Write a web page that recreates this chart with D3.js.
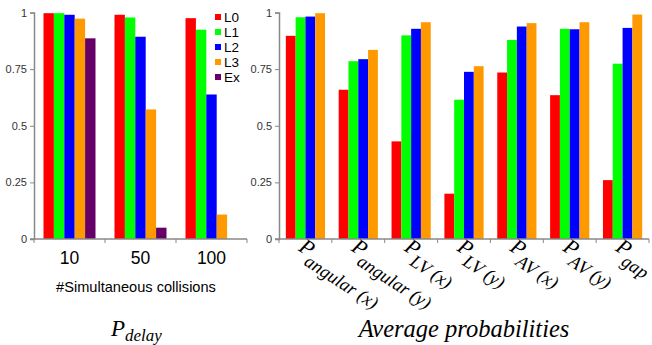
<!DOCTYPE html>
<html>
<head>
<meta charset="utf-8">
<script src="https://cdn.jsdelivr.net/npm/d3@7"></script>
<style>
  body { margin: 0; background: #fff; }
  svg { display: block; }
</style>
</head>
<body>
<div id="chart"></div>
<script>
// data
let series = ["L0", "L1", "L2", "L3", "Ex"];
let colors = ["#ff0000", "#00ff00", "#0000ff", "#ff9900", "#660066"];

let collisions = ["10", "50", "100"];
let delayL0 = [0.997, 0.99, 0.975];
let delayL1 = [0.997, 0.978, 0.924];
let delayL2 = [0.99, 0.893, 0.638];
let delayL3 = [0.973, 0.572, 0.108];
let delayEx = [0.886, 0.05, 0];

let probNames = [
  ["P", "angular (x)"], ["P", "angular (y)"], ["P", "LV (x)"], ["P", "LV (y)"],
  ["P", "AV (x)"], ["P", "AV (y)"], ["P", "gap"]
];
let probL0 = [0.897, 0.659, 0.431, 0.2, 0.735, 0.635, 0.26];
let probL1 = [0.979, 0.785, 0.899, 0.615, 0.879, 0.928, 0.774];
let probL2 = [0.982, 0.794, 0.928, 0.738, 0.938, 0.926, 0.932];
let probL3 = [0.997, 0.835, 0.957, 0.763, 0.953, 0.957, 0.991];

let yTicks = [0, 0.25, 0.5, 0.75, 1];

let svgWidth = 652;
let svgHeight = 345;

var svg = d3.select("#chart")
    .append("svg")
    .attr("width", svgWidth)
    .attr("height", svgHeight);

svg.append("rect").attr("width", svgWidth).attr("height", svgHeight).attr("fill", "#fff");

var yScale = d3.scaleLinear().domain([0, 1]).range([239, 12.5]);

// draws one grouped bar panel
function drawPanel(cats, rows, x0, x1) {
    var g = svg.append("g");
    var x = d3.scaleBand().domain(d3.range(cats.length)).range([x0, x1]);
    var barW = rows.length === 5 ? 10.4 : 9.8;
    var off = (x.bandwidth() - barW * rows.length) / 2;

    rows.forEach(function(vals, si) {
        g.selectAll(null)
            .data(vals)
            .enter()
            .append("rect")
            .attr("x", (d, i) => x(i) + off + si * barW)
            .attr("y", d => yScale(d))
            .attr("width", barW)
            .attr("height", d => yScale(0) - yScale(d))
            .attr("fill", colors[si]);
    });

    // y axis
    var leftAxis = d3.axisLeft(yScale).tickValues(yTicks).tickSize(4)
        .tickFormat(d => String(d));
    var ay = g.append("g").attr("transform", `translate(${x0}, 0)`).call(leftAxis);
    ay.select(".domain").attr("stroke", "#888").attr("stroke-width", 1.5);
    ay.selectAll(".tick line").attr("stroke", "#888");
    ay.selectAll(".tick text")
        .attr("font-family", "Liberation Sans, Arial, sans-serif")
        .attr("font-size", "11px")
        .attr("fill", "#333")
        .attr("x", -7);

    // x axis line with ticks between groups
    g.append("line")
        .attr("x1", x0 - 4).attr("x2", x1)
        .attr("y1", yScale(0)).attr("y2", yScale(0))
        .attr("stroke", "#888").attr("stroke-width", 1.5);
    g.selectAll(null)
        .data(d3.range(cats.length + 1))
        .enter()
        .append("line")
        .attr("x1", i => x0 + i * x.bandwidth())
        .attr("x2", i => x0 + i * x.bandwidth())
        .attr("y1", yScale(0)).attr("y2", yScale(0) + 4)
        .attr("stroke", "#888");
    return x;
}

// left panel
var xLeft = drawPanel(collisions, [delayL0, delayL1, delayL2, delayL3, delayEx], 34, 247);

svg.selectAll(null)
    .data(collisions)
    .enter()
    .append("text")
    .attr("x", (d, i) => xLeft(i) + xLeft.bandwidth() / 2)
    .attr("y", 264)
    .attr("text-anchor", "middle")
    .attr("font-family", "Liberation Sans, Arial, sans-serif")
    .attr("font-size", "17.5px")
    .text(d => d);

svg.append("text")
    .attr("x", 136)
    .attr("y", 292)
    .attr("text-anchor", "middle")
    .attr("font-family", "Liberation Sans, Arial, sans-serif")
    .attr("font-size", "14.6px")
    .text("#Simultaneous collisions");

var pd = svg.append("text")
    .attr("x", 111)
    .attr("y", 336)
    .attr("font-family", "Liberation Serif, Times New Roman, serif")
    .attr("font-style", "italic")
    .attr("font-size", "23px");
pd.append("tspan").text("P");
pd.append("tspan").attr("dy", 5).attr("font-size", "17px").text("delay");

// legend
var legend = svg.append("g");
series.forEach(function(s, i) {
    legend.append("rect")
        .attr("x", 215).attr("y", 14 + i * 15)
        .attr("width", 6).attr("height", 6)
        .attr("fill", colors[i]);
    legend.append("text")
        .attr("x", 224).attr("y", 22 + i * 15)
        .attr("font-family", "Liberation Sans, Arial, sans-serif")
        .attr("font-size", "13.5px")
        .text(s);
});

// right panel
var xRight = drawPanel(probNames, [probL0, probL1, probL2, probL3], 279, 649);

svg.selectAll(null)
    .data(probNames)
    .enter()
    .append("text")
    .attr("transform", (d, i) => `translate(${xRight(i) + xRight.bandwidth() / 2 - 8}, 250) rotate(33)`)
    .attr("font-family", "Liberation Serif, Times New Roman, serif")
    .attr("font-style", "italic")
    .attr("font-size", "22px")
    .each(function(d) {
        var t = d3.select(this);
        t.append("tspan").text(d[0]);
        t.append("tspan").attr("dy", 9).attr("dx", -1).attr("font-size", "18.5px").text(d[1]);
    });

svg.append("text")
    .attr("x", 464)
    .attr("y", 337)
    .attr("text-anchor", "middle")
    .attr("font-family", "Liberation Serif, Times New Roman, serif")
    .attr("font-style", "italic")
    .attr("font-size", "24.5px")
    .text("Average probabilities");
</script>
</body>
</html>
